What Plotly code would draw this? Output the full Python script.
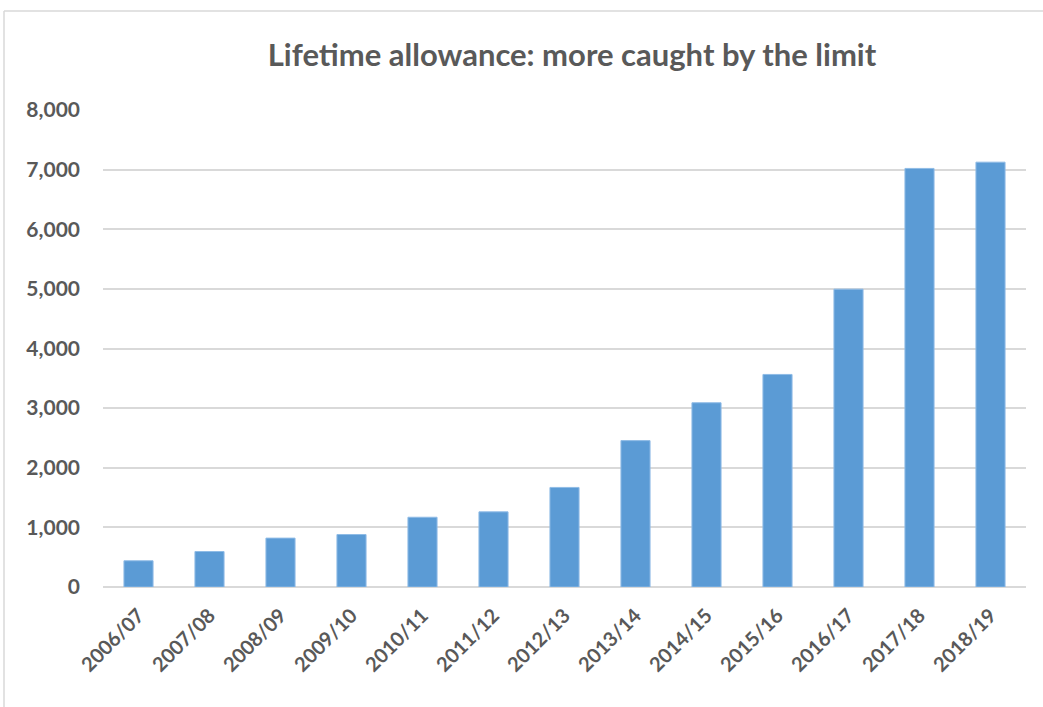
import plotly.graph_objects as go

years = ["2006/07", "2007/08", "2008/09", "2009/10", "2010/11", "2011/12", "2012/13",
         "2013/14", "2014/15", "2015/16", "2016/17", "2017/18", "2018/19"]
counts = [440, 595, 820, 880, 1170, 1260, 1670, 2455, 3090, 3565, 4995, 7020, 7125]
y_ticks = [0, 1000, 2000, 3000, 4000, 5000, 6000, 7000, 8000]
y_tick_labels = ["0", "1,000", "2,000", "3,000", "4,000", "5,000", "6,000", "7,000", "8,000"]

FONT = "Lato"
GREY = "#595959"

fig = go.Figure(go.Bar(
    x=years, y=counts,
    marker=dict(color="#5b9bd5", line=dict(color="#8fbbe6", width=1)),
    hoverinfo="x+y",
))

fig.update_layout(
    width=1043, height=707,
    margin=dict(l=103, r=17, t=110, b=120),
    paper_bgcolor="white", plot_bgcolor="white",
    bargap=0.59,
    showlegend=False,
    title=dict(text="<b>Lifetime allowance: more caught by the limit</b>",
               x=(572 - 103) / 923, xanchor="center", xref="paper",
               y=1 - 55 / 707, yanchor="middle", yref="container",
               font=dict(family=FONT, size=31, color=GREY)),
    font=dict(family=FONT, color=GREY),
)

fig.update_yaxes(
    range=[0, 8000], tickvals=y_ticks, ticktext=["<b>%s</b>" % t for t in y_tick_labels],
    showgrid=True, gridcolor="#d9d9d9", gridwidth=1.5,
    zeroline=True, zerolinecolor="#d9d9d9", zerolinewidth=1.5,
    showline=False, ticks="", ticklabelstandoff=22,
    tickfont=dict(family=FONT, size=21, color=GREY),
)
fig.update_xaxes(
    tickangle=-45, showgrid=False, showline=False, ticks="",
    tickvals=years, ticktext=["<b>%s</b>" % y for y in years],
    tickfont=dict(family=FONT, size=20, color=GREY),
    ticklabelstandoff=12,
)

# chart-area border (top and left edges visible)
fig.add_shape(type="line", xref="paper", yref="paper",
              x0=(4 - 103) / 923, x1=(1043 - 103) / 923 + 0.01,
              y0=(587 - 11) / 477, y1=(587 - 11) / 477,
              line=dict(color="#d9d9d9", width=1.5))
fig.add_shape(type="line", xref="paper", yref="paper",
              x0=(4 - 103) / 923, x1=(4 - 103) / 923,
              y0=(587 - 11) / 477, y1=(587 - 720) / 477,
              line=dict(color="#d9d9d9", width=1.5))

fig.write_html("out.html")
